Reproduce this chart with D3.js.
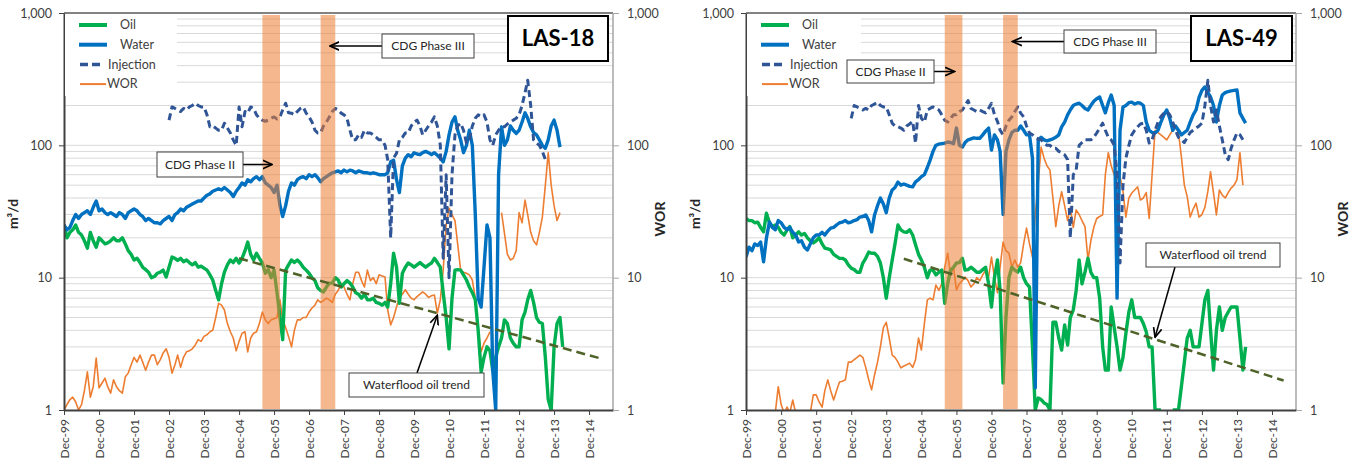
<!DOCTYPE html>
<html><head><meta charset="utf-8">
<script src="https://cdn.jsdelivr.net/npm/d3@7"></script>
<style>
body{margin:0;background:#fff}
svg{display:block}
text{font-family:Lato,"DejaVu Sans",sans-serif}
</style></head>
<body><svg id="chart" width="1356" height="463"></svg>
<script>
// ---------------- DATA (monthly values, month 0 = Dec-1999) ----------------
const xTickLabels = ["Dec-99","Dec-00","Dec-01","Dec-02","Dec-03","Dec-04","Dec-05","Dec-06","Dec-07","Dec-08","Dec-09","Dec-10","Dec-11","Dec-12","Dec-13","Dec-14"];
const yTickValues = [1,10,100,1000];
const legendNames = ["Oil","Water","Injection","WOR"];
const wellNames = ["LAS-18","LAS-49"];
// CDG phases (start month, end month)
const cdgPhase2 = [68, 74];
const cdgPhase3 = [88, 93];

// LAS-18
const las18OilStart = 0;
const las18Oil = [25,20,22,23,25,22,21,19,16.7,22, 19,17,20,19,18,18.3,19,20,19,19,
 20,18,16,15,13.6,14,13,12,11.5,11, 10,10.2,10.8,11,11.4,10.1,12,14.3,14,13.5,
 14,13.2,13.6,13,12.5,13,12,12.2,11.8,11.4, 10.5,9.6,8,6.8,9,11,12.5,13.6,13,14,
 12.9,14,16,18.6,15,13.6,15.3,14,12.9,10.8, 11.5,10,11.4,7.7,5,3.4,11.4,12.5,13.6,13,
 13.6,12.9,12,11.4,10.8,10,9.5,8.4,8,7.8, 8.5,9.1,9.1,10,9.6,8.5,9,9.5,9.1,8.5,
 7.7,7.5,7,7.5,6.8,6.8,7,6.5,6.4,6.2, 6.5,6,9,15.3,12,6.4,10.8,12,12.9,12.5,
 12,12.5,13,12.5,12,12.5,12.9,14,13,12, 7.7,5,2.9,7,11.4,11.5,11.4,10.5,9.6,8.5,
 7.7,6.8,4,1.94,2.5,3,2.8,2,2.5,3, 3.5,4.8,4.5,3.5,3.2,3,3,4.8,5.5,6.8,
 8,6.5,5,4.6,4.5,2.5,1.2,1,3,4.5,5,3];
const las18WaterStart = 0;
const las18Water = [25,23,24,27,30,28,30,31,32,30, 34,38,32,33,31,30,31,30,29,31,
 30,28,31,32,33,32,30,29,27,28, 27,26,26,25.5,27,28,29,27,30,31,
 33,32,34,35,36,37,38,38,40,42, 43,45,46,47,46,48,46,44,41,45,
 48,52,50,55,53,56,58,55,58,52, 50,48,44,50,35,29,35,45,52,50,
 55,57,58,56,60,58,60,57,53,56, 58,60,62,63,64,62,65,63,65,64,
 62,64,63,62,62,61,62,61,60,60, 60,62,75,77,55,44,70,80,85,82,
 88,86,85,88,90,88,85,88,84,80, 75,90,120,150,164,130,110,88,100,130,
 100,30,7,6,12,25,20,2,1,60, 138,100,110,140,130,123,130,150,176,160,
 138,125,120,110,100,95,110,140,155,130,97];
const las18InjStart = 36;
const las18Inj = [155,195,190,185,180,190,185,195,200,208, 200,195,195,170,138,140,135,130,130,147,
 135,124,110,100,195,138,180,175,195,190, 170,160,155,152,155,160,164,158,165,185,
 208,176,175,170,180,190,195,175,164,150, 130,124,124,140,150,164,180,190,185,175,
 170,160,130,110,110,120,115,130,124,124, 120,115,110,110,100,78,20,80,87,110,
 115,124,124,140,150,155,140,120,130,140, 150,164,140,100,14,60,10,60,120,140,
 147,130,104,110,140,160,170,165,170,150, 110,100,120,130,138,138,145,150,155,160,
 170,200,250,310,200,110,104,100,90,78];
const las18WorStart = 0;
const las18Wor = [1,1.1,1.2,1.25,1.15,1,1.1,1.4,1.94,1.25, 1.5,2.47,1.47,1.6,1.74,1.5,1.34,1.69,1.5,1.4,
 1.34,1.78,1.9,2.2,2.5,2.3,2.6,2.3,2,2.3, 2.6,2.6,2.2,2.4,2.7,2.9,2.5,1.9,2.2,2.6,
 2.1,2.5,2.75,2.8,2.9,3.1,3.4,3.3,3.6,3.7, 3.9,4,5,6.4,6.2,5.7,4.5,3.9,3.5,2.8,
 3.3,3.8,3.9,2.75,3.5,3.8,3.9,4.5,5.5,4.8, 4.5,4.8,4.9,5,6.8,4.8,4.2,3.6,3,4,
 4.8,4.8,5,5,5.5,5.9,6.2,6.8,6.5,6.7, 7,6.8,6.5,7.5,8,9.1,8.5,7.5,6.8,9,
 11,11,9.5,8.5,11.4,9.5,10,9,10.5,10.3, 10.1,5.7,4.4,5,6,7.1,7.5,8.1,7.5,7,
 6.8,7.2,7.5,7.8,7.5,7.1,7.3,7.4,5.4,6.8, 11.4,25,33.6,30,27,18,11.4,11,10.8,10.5,
 9.6,7,4,2.75,3.2,3.5,3.9,null,null,null, 31,21.7,15,13.6,14,16,31,26,38.6,30,
 22,19,17.7,22,28.7,50,88,50,35,27,31];
const las18Trend = [[60,14],[184,2.45]];

// LAS-49
const las49OilStart = 0;
const las49Oil = [28,27,27,26,26.3,24,22.2,30.7,26,24.3, 25,24,22,21,23,24.3,20,21,22.2,21,
 21.6,20,19,18.3,19,20,18,16.7,16.5,16.2, 15,14.5,14,14,13.6,12.5,11.8,11.5,11,11,
 12.9,14,15.6,15.3,15.3,14.5,12.9,10,7,10, 13.6,18,25,23,22.2,22,23,21,17.7,15,
 13.6,12,10,11.4,11.4,10.5,11,11.4,6.4,9, 11.4,12,12.9,13,14,11.4,11.5,12,11.5,11,
 11,11.5,12,9,6,10,13.6,8,1.6,5, 10,12,11.4,11,12,10,9,8.5,3,1,
 1.23,1.2,1.13,1.1,1,4.6,4.6,3.5,2.84,4.4, 3.1,5,5.7,8,13.6,9,11,14,11,10,
 10,7,3,2,2,6,4.2,3,2,2.5, 3.8,5.5,6.8,5,5,5,4.5,3.9,3,3,
 1,1,1,null,null,null,1,1,1,1.5, 2.3,3.5,4,3,3,3,4.5,6.8,8,4,
 2,4,6,4,5,5.5,6,6,6,3.5,2,3];
const las49WaterStart = 0;
const las49Water = [14.3,17,16,18,17.5,18.6,13.2,20,26.3,24, 23,27,26,24,23,24,22,21,18.6,19,
 17,16.2,18,20,21,21,22,21,22.5,23.7, 24,25,26,26.3,27,26,26.3,27,27.5,28.7,
 29,29.8,27,22.2,29.8,35,40,36,31,40, 46,48,52.7,50,51,50,49,48.6,53,55,
 58,60,68,77,90,100,102,103,104,106, 105,103,135,100,97,105,110,112,114,113,
 113,120,128,135,92,120,110,90,30,90, 110,125,130,130,140,130,120,120,80,1.47,
 110,115,110,108,110,112,115,120,138,150, 170,185,200,205,208,200,190,185,200,215,
 225,232,200,176,210,240,200,7,130,195, 200,210,212,205,210,208,200,150,130,125,
 124,130,150,170,185,160,130,140,130,120, 125,130,150,170,185,230,260,276,250,232,
 200,150,200,240,250,255,258,260,262,176,160,147];
const las49InjStart = 36;
const las49Inj = [160,200,195,190,185,190,185,200,205,212, 200,195,195,170,147,140,138,135,130,140,
 145,152,104,200,160,150,185,190,195,190, 185,170,155,150,160,170,170,180,185,200,
 218,190,185,180,185,180,176,190,208,170, 152,130,120,140,155,164,180,195,175,164,
 140,124,120,115,112,110,105,100,100,95, 95,90,88,85,78,20,60,65,100,105,
 110,110,110,115,124,135,147,130,115,110, 100,60,12.9,50,80,100,120,130,138,145,
 147,130,104,110,130,150,165,175,180,170, 150,130,115,110,105,115,125,130,135,140,
 147,200,310,200,150,185,140,110,85,78,95,110,124,120,110];
const las49WorStart = 9;
const las49Wor = [0.8,0.95,1.5,1.1,0.95,1.05,0.95,1.19,0.95,0.9, 0.9,0.9,0.9,0.95,1.3,1.3,1.15,1.05,1.4,1.69,
 1.4,1.19,1.4,1.63,1.65,1.69,2.3,2.3,2.4,2.5, 2.6,2.5,2.1,1.7,1.42,1.84,2.3,3,4.2,4.6,
 3.5,2.6,2.5,2.3,2.08,2.15,2.2,2.26,2.1,2.4, 3.5,2.84,4.5,6.8,7,6.8,8.8,8,9,12,
 15.3,10.5,12,8.1,9,9.5,10.1,9.5,8.5,9, 10,9.5,10.5,11.4,10.1,14.3,10,7.7,12,18.6,
 16,15.3,12,13.6,12,13,18,23.7,18,14.3, 30,52,97,80,70,65,40,24.3,35,44.6,
 35,27,34,24,32.5,30,27,24.3,13.6,19, 24,28,29,29.8,60,88,70,60,55,58,
 45,28.7,40,43.6,46,48.6,38.6,40,44,28, 60,130,125,120,115,110,120,130,138,124,
 82,50,41,28.7,33,36.6,28.7,30,34,45, 63,43.6,29.8,46,42,40,44,47.5,50,55,88,50];
const las49Trend = [[54,13.9],[184,1.67]];

// ---------------- DRAWING ----------------
const svg = d3.select("#chart");
const monthDate = m => new Date(1999, 11 + m, 1);
const toSeries = (start, vals) => vals.map((v, i) => ({date: monthDate(start + i), v}));
const COL = {oil:"#00B050", water:"#0070C0", inj:"#2F5597", wor:"#ED7D31", band:"#ED7D31", trend:"#4F6228", text:"#404040"};

const panels = [
  {name: wellNames[0], x0: 64, x1: 613,
   oil: toSeries(las18OilStart, las18Oil), water: toSeries(las18WaterStart, las18Water),
   inj: toSeries(las18InjStart, las18Inj), wor: toSeries(las18WorStart, las18Wor), trend: las18Trend,
   legendW: 112,
   boxes: {p2: [93, 152, 86, 25], p3: [318, 34, 92, 24], well: [444, 16, 100, 45], wf: [285, 373, 135, 24]},
   wfArrow: {from: [417 - 64, 373], month: 128}},
  {name: wellNames[1], x0: 746, x1: 1296,
   oil: toSeries(las49OilStart, las49Oil), water: toSeries(las49WaterStart, las49Water),
   inj: toSeries(las49InjStart, las49Inj), wor: toSeries(las49WorStart, las49Wor), trend: las49Trend,
   legendW: 114,
   boxes: {p2: [101, 60, 87, 23], p3: [318, 30, 92, 23], well: [445, 16, 101, 45], wf: [400, 243, 134, 24]},
   wfArrow: {from: [1175 - 746, 267], month: 140}}
];

const yTop = 13, yBot = 410;
const y = d3.scaleLog().domain([1, 1000]).range([yBot, yTop]);

// arrow marker
const defs = svg.append("defs");
defs.append("marker").attr("id", "arr").attr("viewBox", "0 0 10 10").attr("refX", 9).attr("refY", 5)
  .attr("markerWidth", 7).attr("markerHeight", 7).attr("orient", "auto-start-reverse")
  .append("path").attr("d", "M0,1 L9,5 L0,9").attr("fill", "none").attr("stroke", "#000").attr("stroke-width", 1.6);

panels.forEach((p, pi) => {
  const x = d3.scaleTime().domain([monthDate(0), new Date(2015, 7, 8)]).range([p.x0, p.x1]);
  const g = svg.append("g");
  const clipId = "clip" + pi;
  defs.append("clipPath").attr("id", clipId).append("rect")
    .attr("x", p.x0).attr("y", yTop).attr("width", p.x1 - p.x0).attr("height", yBot - yTop);

  // gridlines
  const grid = [];
  [1, 10, 100].forEach(k => { for (let j = 1; j <= 9; j++) { const v = j * k; if (v > 1) grid.push(v); } });
  g.append("g").selectAll("line").data(grid).join("line")
    .attr("x1", p.x0).attr("x2", p.x1).attr("y1", d => y(d)).attr("y2", d => y(d))
    .attr("stroke", "#D9D9D9").attr("stroke-width", 1);

  // series
  const line = d3.line().defined(d => d.v != null).x(d => x(d.date)).y(d => y(Math.max(d.v, 0.5)));
  const plot = g.append("g").attr("clip-path", `url(#${clipId})`);
  plot.append("path").attr("d", line(p.wor)).attr("fill", "none").attr("stroke", COL.wor).attr("stroke-width", 1.6).attr("stroke-linejoin", "round");
  plot.append("path").attr("d", line(p.oil)).attr("fill", "none").attr("stroke", COL.oil).attr("stroke-width", 3.4).attr("stroke-linejoin", "round");
  plot.append("path").attr("d", line(p.water)).attr("fill", "none").attr("stroke", COL.water).attr("stroke-width", 3.4).attr("stroke-linejoin", "round");
  plot.append("path").attr("d", line(p.inj)).attr("fill", "none").attr("stroke", COL.inj).attr("stroke-width", 3).attr("stroke-dasharray", "7,4").attr("stroke-linejoin", "round");

  // CDG bands
  [cdgPhase2, cdgPhase3].forEach(b => {
    plot.append("rect").attr("x", x(monthDate(b[0]))).attr("width", x(monthDate(b[1])) - x(monthDate(b[0])))
      .attr("y", yTop + 2).attr("height", yBot - yTop - 3).attr("fill", COL.band).attr("opacity", 0.55);
  });

  // trend line
  plot.append("path").attr("d", d3.line().x(d => x(monthDate(d[0]))).y(d => y(d[1]))(p.trend))
    .attr("fill", "none").attr("stroke", COL.trend).attr("stroke-width", 2.5).attr("stroke-dasharray", "9,5");

  // borders
  g.append("line").attr("x1", p.x0).attr("x2", p.x1).attr("y1", yTop).attr("y2", yTop).attr("stroke", "#595959").attr("stroke-width", 1.5);
  g.append("line").attr("x1", p.x1).attr("x2", p.x1).attr("y1", yTop).attr("y2", yBot).attr("stroke", "#A6A6A6").attr("stroke-width", 1.5);

  // axes
  const ax = g.append("g").attr("transform", `translate(0,${yBot})`)
    .call(d3.axisBottom(x).tickValues(xTickLabels.map((_, i) => monthDate(12 * i))).tickFormat((d, i) => xTickLabels[i]).tickSize(5).tickSizeOuter(0));
  ax.select(".domain").attr("stroke", "#404040").attr("stroke-width", 2);
  ax.selectAll(".tick line").attr("stroke", "#404040");
  ax.selectAll("text").attr("transform", "rotate(-90)").attr("text-anchor", "end")
    .attr("x", -9).attr("y", 0).attr("dy", "0.35em").attr("font-size", 12).attr("fill", COL.text)
    .style("font-family", "Lato, 'DejaVu Sans', sans-serif");

  const ayl = g.append("g").attr("transform", `translate(${p.x0},0)`)
    .call(d3.axisLeft(y).tickValues(yTickValues).tickFormat(d3.format(",")).tickSize(5).tickPadding(7).tickSizeOuter(0));
  ayl.select(".domain").attr("stroke", "#404040").attr("stroke-width", 2);
  ayl.selectAll(".tick line").attr("stroke", "#404040");
  ayl.selectAll("text").attr("font-size", 12.5).attr("fill", COL.text).style("font-family", "Lato, 'DejaVu Sans', sans-serif");

  const ayr = g.append("g").attr("transform", `translate(${p.x1},0)`)
    .call(d3.axisRight(y).tickValues(yTickValues).tickFormat(d3.format(",")).tickSize(6).tickPadding(8).tickSizeOuter(0));
  ayr.select(".domain").remove();
  ayr.selectAll(".tick line").attr("stroke", "#A6A6A6");
  ayr.selectAll("text").attr("font-size", 12.5).attr("fill", COL.text).style("font-family", "Lato, 'DejaVu Sans', sans-serif");

  // axis titles
  g.append("text").attr("transform", `translate(${p.x0 - 46},${214}) rotate(-90)`).attr("text-anchor", "middle")
    .attr("font-weight", "bold").attr("font-size", 14).attr("fill", "#262626").text("m³/d");
  g.append("text").attr("transform", `translate(${p.x1 + 52},${219}) rotate(-90)`).attr("text-anchor", "middle")
    .attr("font-weight", "bold").attr("font-size", 14).attr("fill", "#262626").text("WOR");

  // legend
  const lg = g.append("g").attr("transform", `translate(${p.x0},0)`);
  lg.append("rect").attr("x", 1).attr("y", yTop + 1).attr("width", p.legendW).attr("height", 82).attr("fill", "#fff");
  const legendStyle = [
    {c: COL.oil, w: 4, dash: null, x1: 15, x2: 43, tx: 56},
    {c: COL.water, w: 4, dash: null, x1: 15, x2: 43, tx: 56},
    {c: COL.inj, w: 3.5, dash: "8,4", x1: 16, x2: 40, tx: 44},
    {c: COL.wor, w: 2, dash: null, x1: 16, x2: 42, tx: 43}
  ];
  legendNames.forEach((n, i) => {
    const ly = 25 + i * 19.7;
    const s = legendStyle[i];
    lg.append("line").attr("x1", s.x1).attr("x2", s.x2).attr("y1", ly).attr("y2", ly)
      .attr("stroke", s.c).attr("stroke-width", s.w).attr("stroke-dasharray", s.dash);
    lg.append("text").attr("x", s.tx).attr("y", ly).attr("dy", "0.35em").attr("font-size", 12.5).attr("fill", COL.text).text(n);
  });

  // annotation boxes
  const box = (b, label, opts = {}) => {
    g.append("rect").attr("x", p.x0 + b[0]).attr("y", b[1]).attr("width", b[2]).attr("height", b[3])
      .attr("fill", "#fff").attr("stroke", opts.stroke || "#404040").attr("stroke-width", opts.sw || 1);
    g.append("text").attr("x", p.x0 + b[0] + b[2] / 2).attr("y", b[1] + b[3] / 2).attr("dy", "0.36em")
      .attr("text-anchor", "middle").attr("font-size", opts.fs || 12).attr("font-weight", opts.fw || "normal")
      .attr("fill", opts.fill || "#262626").text(label);
  };
  const arrow = (x1, y1, x2, y2) => g.append("line").attr("x1", x1).attr("y1", y1).attr("x2", x2).attr("y2", y2)
    .attr("stroke", "#000").attr("stroke-width", 1.5).attr("marker-end", "url(#arr)");

  const b2 = p.boxes.p2, b3 = p.boxes.p3, bw = p.boxes.well, bf = p.boxes.wf;
  const c2 = (x(monthDate(cdgPhase2[0])) + x(monthDate(cdgPhase2[1]))) / 2;
  const c3 = (x(monthDate(cdgPhase3[0])) + x(monthDate(cdgPhase3[1]))) / 2 + 2;
  arrow(p.x0 + b2[0] + b2[2], b2[1] + b2[3] / 2, c2 + 1, b2[1] + b2[3] / 2);
  arrow(p.x0 + b3[0], b3[1] + b3[3] / 2, c3, b3[1] + b3[3] / 2);
  box(b2, "CDG Phase II");
  box(b3, "CDG Phase III");
  box(bw, p.name, {stroke: "#000", sw: 2, fs: 22, fw: "bold", fill: "#000"});
  // waterflood arrow tip on the trend line
  const t = p.trend, m = p.wfArrow.month;
  const tv = Math.pow(10, Math.log10(t[0][1]) + (Math.log10(t[1][1]) - Math.log10(t[0][1])) * (m - t[0][0]) / (t[1][0] - t[0][0]));
  arrow(p.x0 + p.wfArrow.from[0], p.wfArrow.from[1], x(monthDate(m)), y(tv) + (pi === 0 ? 2 : -2));
  box(bf, "Waterflood oil trend");
});
</script></body></html>
